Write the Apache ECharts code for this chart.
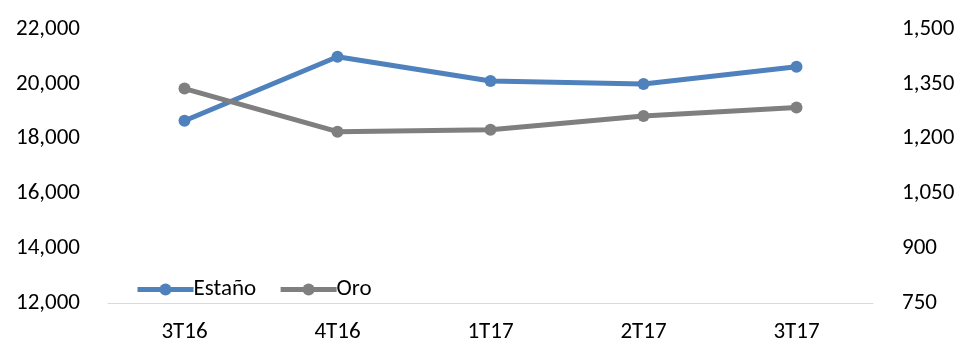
<!DOCTYPE html>
<html>
<head>
<meta charset="utf-8">
<script src="https://cdn.jsdelivr.net/npm/echarts@6/dist/echarts.min.js"></script>
<style>
  html, body { margin: 0; padding: 0; background: #fff; }
  #chart { width: 960px; height: 345px; }
</style>
</head>
<body>
<div id="chart"></div>
<script>
// Quarterly prices: tin (left axis) and gold (right axis)
const quarters = ['3T16', '4T16', '1T17', '2T17', '3T17'];
const estano = [18653, 20989, 20102, 19993, 20624];
const oro = [1337, 1219, 1224, 1262, 1285];
const leftTicks = { min: 12000, max: 22000, interval: 2000 };
const rightTicks = { min: 750, max: 1500, interval: 150 };

const fontFamily = 'Carlito, "Open Sans", "Liberation Sans", sans-serif';
const fmt = v => v.toLocaleString('en-US');

const chart = echarts.init(document.getElementById('chart'), null, { renderer: 'canvas' });
chart.setOption({
  animation: false,
  backgroundColor: '#ffffff',
  textStyle: { fontFamily: fontFamily },
  grid: { left: 108, right: 87, top: 29, bottom: 42, containLabel: false },
  legend: {
    left: 130,
    top: 273,
    itemWidth: 56,
    itemHeight: 15,
    itemGap: 22,
    lineStyle: { width: 5 },
    textStyle: { fontSize: 23, color: '#000', fontFamily: fontFamily, padding: [0, 0, 0, -5] },
    data: ['Estaño', 'Oro']
  },
  xAxis: {
    type: 'category',
    data: quarters,
    boundaryGap: true,
    axisLine: { lineStyle: { color: '#d9d9d9', width: 1 } },
    axisTick: { show: false },
    axisLabel: { fontSize: 23, color: '#000', margin: 18, fontFamily: fontFamily }
  },
  yAxis: [
    {
      type: 'value',
      min: leftTicks.min, max: leftTicks.max, interval: leftTicks.interval,
      splitLine: { show: false },
      axisLine: { show: false },
      axisTick: { show: false },
      axisLabel: { fontSize: 23, color: '#000', margin: 28, formatter: fmt, fontFamily: fontFamily }
    },
    {
      type: 'value',
      min: rightTicks.min, max: rightTicks.max, interval: rightTicks.interval,
      splitLine: { show: false },
      axisLine: { show: false },
      axisTick: { show: false },
      axisLabel: { fontSize: 23, color: '#000', margin: 29, formatter: fmt, fontFamily: fontFamily }
    }
  ],
  series: [
    {
      name: 'Estaño',
      type: 'line',
      yAxisIndex: 0,
      data: estano,
      symbol: 'circle',
      symbolSize: 12,
      lineStyle: { color: '#4f81bd', width: 5 },
      itemStyle: { color: '#4f81bd' }
    },
    {
      name: 'Oro',
      type: 'line',
      yAxisIndex: 1,
      data: oro,
      symbol: 'circle',
      symbolSize: 12,
      lineStyle: { color: '#7f7f7f', width: 5 },
      itemStyle: { color: '#7f7f7f' }
    }
  ]
});
</script>
</body>
</html>
